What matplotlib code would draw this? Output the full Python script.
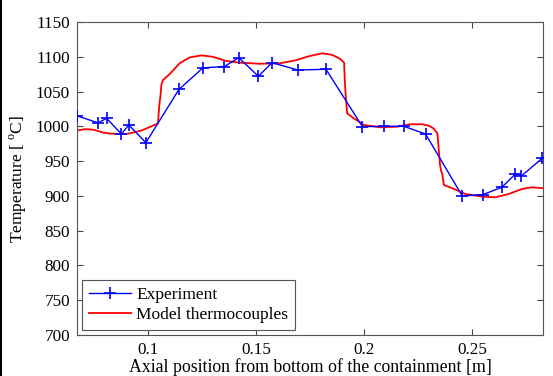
import matplotlib
matplotlib.use("Agg")
import matplotlib.pyplot as plt
from matplotlib.lines import Line2D

plt.rcParams['font.family'] = ['Liberation Serif', 'DejaVu Serif']
plt.rcParams['mathtext.fontset'] = 'custom'
plt.rcParams['mathtext.rm'] = 'Liberation Serif'

# Experiment data
exp_x = [0.0672, 0.0769, 0.0808, 0.0877, 0.0911, 0.0990, 0.1143, 0.1254, 0.1354,
         0.1420, 0.1511, 0.1574, 0.1693, 0.1824, 0.1993, 0.2093, 0.2185, 0.2285,
         0.2455, 0.2552, 0.2639, 0.2701, 0.2729, 0.2825]
exp_T = [1015, 1005, 1011.5, 989, 1002, 976.5, 1053, 1084, 1086,
         1098.7, 1072, 1091.5, 1081, 1082, 999.5, 1000, 1000, 989,
         900, 902, 912.5, 931.5, 928.6, 954]

# Model thermocouples
mod_x = [0.0672, 0.0710, 0.0750, 0.0792, 0.0830, 0.0869, 0.0900, 0.0938, 0.0970,
         0.1000, 0.1030, 0.1046, 0.1052, 0.1058, 0.1062, 0.1069, 0.1100, 0.1146,
         0.1192, 0.1247, 0.1300, 0.1362, 0.1424, 0.1516, 0.1608, 0.1685, 0.1747,
         0.1808, 0.1854, 0.1890, 0.1908, 0.1912, 0.1916, 0.1922, 0.1953, 0.1999,
         0.2076, 0.2153, 0.2214, 0.2268, 0.2300, 0.2322, 0.2340, 0.2348, 0.2352,
         0.2358, 0.2362, 0.2370, 0.2409, 0.2470, 0.2547, 0.2609, 0.2670, 0.2732,
         0.2778, 0.2829]
mod_T = [994, 996, 995, 991, 989.5, 989, 989, 991.5, 994,
         998, 1002, 1004, 1030, 1045, 1060, 1066.6, 1075, 1090.6,
         1099, 1102, 1100, 1094, 1091.5, 1090, 1090.5, 1095, 1101,
         1105, 1102.6, 1097, 1091.5, 1060, 1043, 1018.6, 1011.6, 1002,
         998.6, 999.5, 1003, 1003, 1001, 997, 990, 960, 945,
         935, 932.5, 915.6, 911, 902.7, 899, 898, 902.7, 910,
         912.4, 911]

xticks = [0.1, 0.15, 0.2, 0.25]
xticklabels = ['0.1', '0.15', '0.2', '0.25']
yticks = list(range(700, 1151, 50))

fig = plt.figure(figsize=(5.53, 3.76), dpi=100)
ax = fig.add_axes([0.1392, 0.109, 0.8427, 0.8325])

ax.plot(mod_x, mod_T, color='#ff0000', lw=1.3, zorder=2)
ax.plot(exp_x, exp_T, color='#0000ff', lw=1.0, marker='+', ms=9, mew=1.2, zorder=3)

ax.set_xlim(0.0671, 0.2829)
ax.set_ylim(700, 1150)
ax.set_xticks(xticks)
ax.set_xticklabels(xticklabels)
ax.set_yticks(yticks)
ax.tick_params(direction='in', top=True, right=True, length=4, width=0.8,
               colors='#444444', labelcolor='black', labelsize=12.3, pad=5)
for s in ax.spines.values():
    s.set_color('#555555')
    s.set_linewidth(0.8)

ax.set_xlabel('Axial position from bottom of the containment [m]', fontsize=12.8, labelpad=0)
ax.set_ylabel('Temperature [ $^{\\rm o}$C]', fontsize=12.5, labelpad=5)

handles = [Line2D([], [], color='#0000ff', lw=1.0, marker='+', ms=9, mew=1.2),
           Line2D([], [], color='#ff0000', lw=1.3)]
leg = ax.legend(handles, ['Experiment', 'Model thermocouples'], loc='lower left',
                fontsize=12.5, fancybox=False, framealpha=1, edgecolor='#555555',
                borderaxespad=0.3, handlelength=2.4, borderpad=0.4, labelspacing=0.2,
                handletextpad=0.3, numpoints=1)
leg.get_frame().set_linewidth(0.8)

fig.add_artist(Line2D([0.001, 0.001], [0, 1], transform=fig.transFigure, color='black', lw=1.5))

fig.savefig('out.png', dpi=100)
